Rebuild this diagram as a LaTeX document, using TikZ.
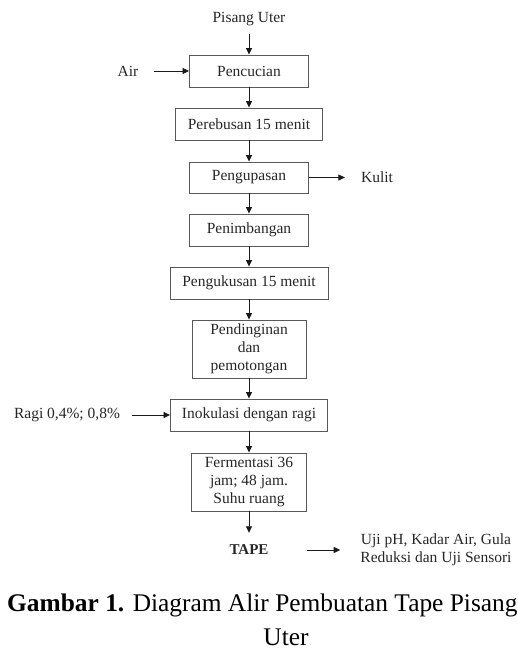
\documentclass[tikz,border=0pt]{standalone}
\usepackage{fontspec}
\setmainfont{Liberation Serif}
\usetikzlibrary{arrows.meta}
\newcommand{\diagfont}{\fontsize{15.5}{18}\selectfont}
\newcommand{\tapefont}{\fontsize{15}{17}\selectfont\bfseries}
\newcommand{\capfont}{\fontsize{25.4}{30}\selectfont}
\begin{document}
\begin{tikzpicture}[x=1pt,y=1pt,
  box/.style={draw=black!65, line width=0.9pt, text=black!85, inner sep=0pt, align=center, font=\diagfont},
  lbl/.style={text=black!85, inner sep=0pt, font=\diagfont, align=center},
  arr/.style={-{Triangle[length=6.5pt,width=6pt]}, line width=0.8pt, black!90},
]
\clip (0,0) rectangle (517,650);
\node[lbl, minimum height=30pt] (pisang) at (249,631) {Pisang Uter};
\node[box, minimum width=119pt, minimum height=32pt] (pencucian) at (249,579) {Pencucian};
\node[box, minimum width=147pt, minimum height=32pt] (perebusan) at (249,526) {Perebusan 15 menit};
\node[box, minimum width=119pt, minimum height=31pt] (pengupasan) at (249,472.5) {Pengupasan};
\node[box, minimum width=119pt, minimum height=32pt] (penimbangan) at (249,420) {Penimbangan};
\node[box, minimum width=158pt, minimum height=32pt] (pengukusan) at (249,367) {Pengukusan 15 menit};
\node[box, minimum width=114pt, minimum height=58pt] (pendinginan) at (249,301) {Pendinginan\\dan\\pemotongan};
\node[box, minimum width=157pt, minimum height=32pt] (inokulasi) at (249,235) {Inokulasi dengan ragi};
\node[box, minimum width=115pt, minimum height=58pt] (fermentasi) at (249,168) {Fermentasi 36\\jam; 48 jam.\\Suhu ruang};
\node[lbl, font=\tapefont, minimum height=34pt, inner xsep=38.5pt] (tape) at (249,100) {TAPE};
\node[lbl, inner xsep=20pt] (uji) at (436,100) {Uji pH, Kadar Air, Gula\\Reduksi dan Uji Sensori};
\node[lbl, inner xsep=15pt] (air) at (128,579) {Air};
\node[lbl, inner xsep=16pt] (kulit) at (377,472.5) {Kulit};
\node[lbl, inner xsep=12pt] (ragi) at (67,235) {Ragi 0,4\%; 0,8\%};

\draw[arr] (pisang) -- (pencucian);
\draw[arr] (pencucian) -- (perebusan);
\draw[arr] (perebusan) -- (pengupasan);
\draw[arr] (pengupasan) -- (penimbangan);
\draw[arr] (penimbangan) -- (pengukusan);
\draw[arr] (pengukusan) -- (pendinginan);
\draw[arr] (pendinginan) -- (inokulasi);
\draw[arr] (inokulasi) -- (fermentasi);
\draw[arr] (fermentasi) -- (tape);
\draw[arr] (air) -- (pencucian);
\draw[arr] (pengupasan) -- (kulit);
\draw[arr] (ragi) -- (inokulasi);
\draw[arr] (tape) -- (uji);

\node[anchor=base west, inner sep=0pt, font=\capfont] (cap1) at (7,38) {\textbf{Gambar 1.} Diagram Alir Pembuatan Tape Pisang};
\node[anchor=base, inner sep=0pt, font=\capfont] (cap2) at (286,5) {Uter};
\end{tikzpicture}
\end{document}
